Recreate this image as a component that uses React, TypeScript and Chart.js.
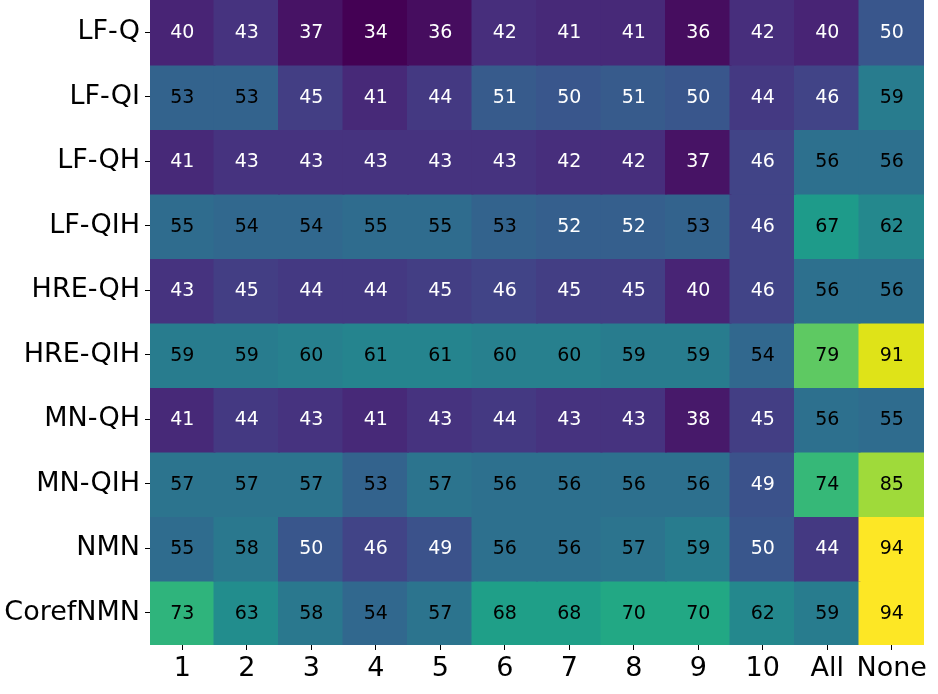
import React, { useEffect, useRef } from "react";
import { Chart, registerables } from "chart.js";

Chart.register(...registerables);

const columns = ["1", "2", "3", "4", "5", "6", "7", "8", "9", "10", "All", "None"];
const rowNames = ["LF-Q", "LF-QI", "LF-QH", "LF-QIH", "HRE-QH", "HRE-QIH", "MN-QH", "MN-QIH", "NMN", "CorefNMN"];

const rowLFQ = [40, 43, 37, 34, 36, 42, 41, 41, 36, 42, 40, 50];
const rowLFQI = [53, 53, 45, 41, 44, 51, 50, 51, 50, 44, 46, 59];
const rowLFQH = [41, 43, 43, 43, 43, 43, 42, 42, 37, 46, 56, 56];
const rowLFQIH = [55, 54, 54, 55, 55, 53, 52, 52, 53, 46, 67, 62];
const rowHREQH = [43, 45, 44, 44, 45, 46, 45, 45, 40, 46, 56, 56];
const rowHREQIH = [59, 59, 60, 61, 61, 60, 60, 59, 59, 54, 79, 91];
const rowMNQH = [41, 44, 43, 41, 43, 44, 43, 43, 38, 45, 56, 55];
const rowMNQIH = [57, 57, 57, 53, 57, 56, 56, 56, 56, 49, 74, 85];
const rowNMN = [55, 58, 50, 46, 49, 56, 56, 57, 59, 50, 44, 94];
const rowCorefNMN = [73, 63, 58, 54, 57, 68, 68, 70, 70, 62, 59, 94];

const matrix = [rowLFQ, rowLFQI, rowLFQH, rowLFQIH, rowHREQH, rowHREQIH, rowMNQH, rowMNQIH, rowNMN, rowCorefNMN];

const VMIN = 34;
const VMAX = 94;
const TEXT_THRESHOLD = 52.5;

const viridisStops = [
  "#440154", "#471365", "#482475", "#46337f", "#414487", "#3b528b", "#355f8d",
  "#2f6c8e", "#2a788e", "#25848e", "#21918c", "#1e9b8a", "#22a884", "#2fb47c",
  "#44bf70", "#5ec962", "#7ad151", "#9fda3a", "#bddf26", "#dfe318", "#fde725",
];

function hexToRgb(h: string) {
  return [parseInt(h.slice(1, 3), 16), parseInt(h.slice(3, 5), 16), parseInt(h.slice(5, 7), 16)];
}

function viridis(v: number) {
  let t = (v - VMIN) / (VMAX - VMIN);
  t = Math.max(0, Math.min(1, t));
  const pos = t * (viridisStops.length - 1);
  const i = Math.min(Math.floor(pos), viridisStops.length - 2);
  const f = pos - i;
  const a = hexToRgb(viridisStops[i]);
  const b = hexToRgb(viridisStops[i + 1]);
  const c = a.map((x, k) => Math.round(x + (b[k] - x) * f));
  return `rgb(${c[0]},${c[1]},${c[2]})`;
}

const annotatePlugin = {
  id: "annotate",
  afterDatasetsDraw(chart: any) {
    const ctx = chart.ctx;
    ctx.save();
    ctx.font = "19px 'DejaVu Sans'";
    ctx.textAlign = "center";
    ctx.textBaseline = "middle";
    chart.data.datasets.forEach((ds: any, di: number) => {
      const meta = chart.getDatasetMeta(di);
      meta.data.forEach((el: any, ci: number) => {
        const v = matrix[di][ci];
        ctx.fillStyle = v > TEXT_THRESHOLD ? "#000000" : "#ffffff";
        ctx.fillText(String(v), el.x, (el.y + el.base) / 2 + 1);
      });
    });
    ctx.restore();
  },
};

export default function App() {
  const ref = useRef<HTMLCanvasElement>(null);
  useEffect(() => {
    if (!ref.current) return;
    const datasets = matrix.map((row, r) => ({
      label: rowNames[r],
      data: row.map(() => [r - 0.5, r + 0.5]),
      backgroundColor: row.map((v) => viridis(v)),
      borderWidth: 0,
      inflateAmount: 1,
      barPercentage: 1,
      categoryPercentage: 1,
      grouped: false,
    }));
    const chart = new Chart(ref.current, {
      type: "bar",
      data: { labels: columns, datasets: datasets as any },
      options: {
        animation: false,
        responsive: false,
        maintainAspectRatio: false,
        layout: { padding: { left: 0, right: 14, top: 0, bottom: 0 } },
        plugins: { legend: { display: false }, tooltip: { enabled: false } },
        scales: {
          x: {
            type: "category",
            offset: true,
            grid: { display: true, drawOnChartArea: false, drawTicks: true, tickLength: 5, color: "#000", offset: false, lineWidth: 1 },
            border: { display: false },
            ticks: { color: "#000", font: { family: "'DejaVu Sans'", size: 27 }, padding: 3, maxRotation: 0, autoSkip: false },
            afterFit: (s: any) => { s.height = 49; s.paddingLeft = 0; s.paddingRight = 0; },
          },
          y: {
            type: "linear",
            min: -0.5,
            max: 9.5,
            reverse: true,
            afterBuildTicks: (s: any) => { s.ticks = rowNames.map((_, i) => ({ value: i })); },
            grid: { display: true, drawOnChartArea: false, drawTicks: true, tickLength: 5, color: "#000", lineWidth: 1 },
            border: { display: false },
            ticks: {
              color: "#000",
              font: { family: "'DejaVu Sans'", size: 27 },
              padding: 5,
              autoSkip: false,
              callback: (v: any) => rowNames[Math.round(Number(v))] ?? "",
            },
            afterFit: (s: any) => { s.width = 150; s.paddingTop = 0; s.paddingBottom = 0; },
          },
        },
      } as any,
      plugins: [annotatePlugin],
    });
    return () => chart.destroy();
  }, []);
  return (
    <div style={{ position: "absolute", left: 0, top: 0, width: 938, height: 694, background: "#fff" }}>
      <canvas ref={ref} width={938} height={694} style={{ width: 938, height: 694 }} />
    </div>
  );
}
